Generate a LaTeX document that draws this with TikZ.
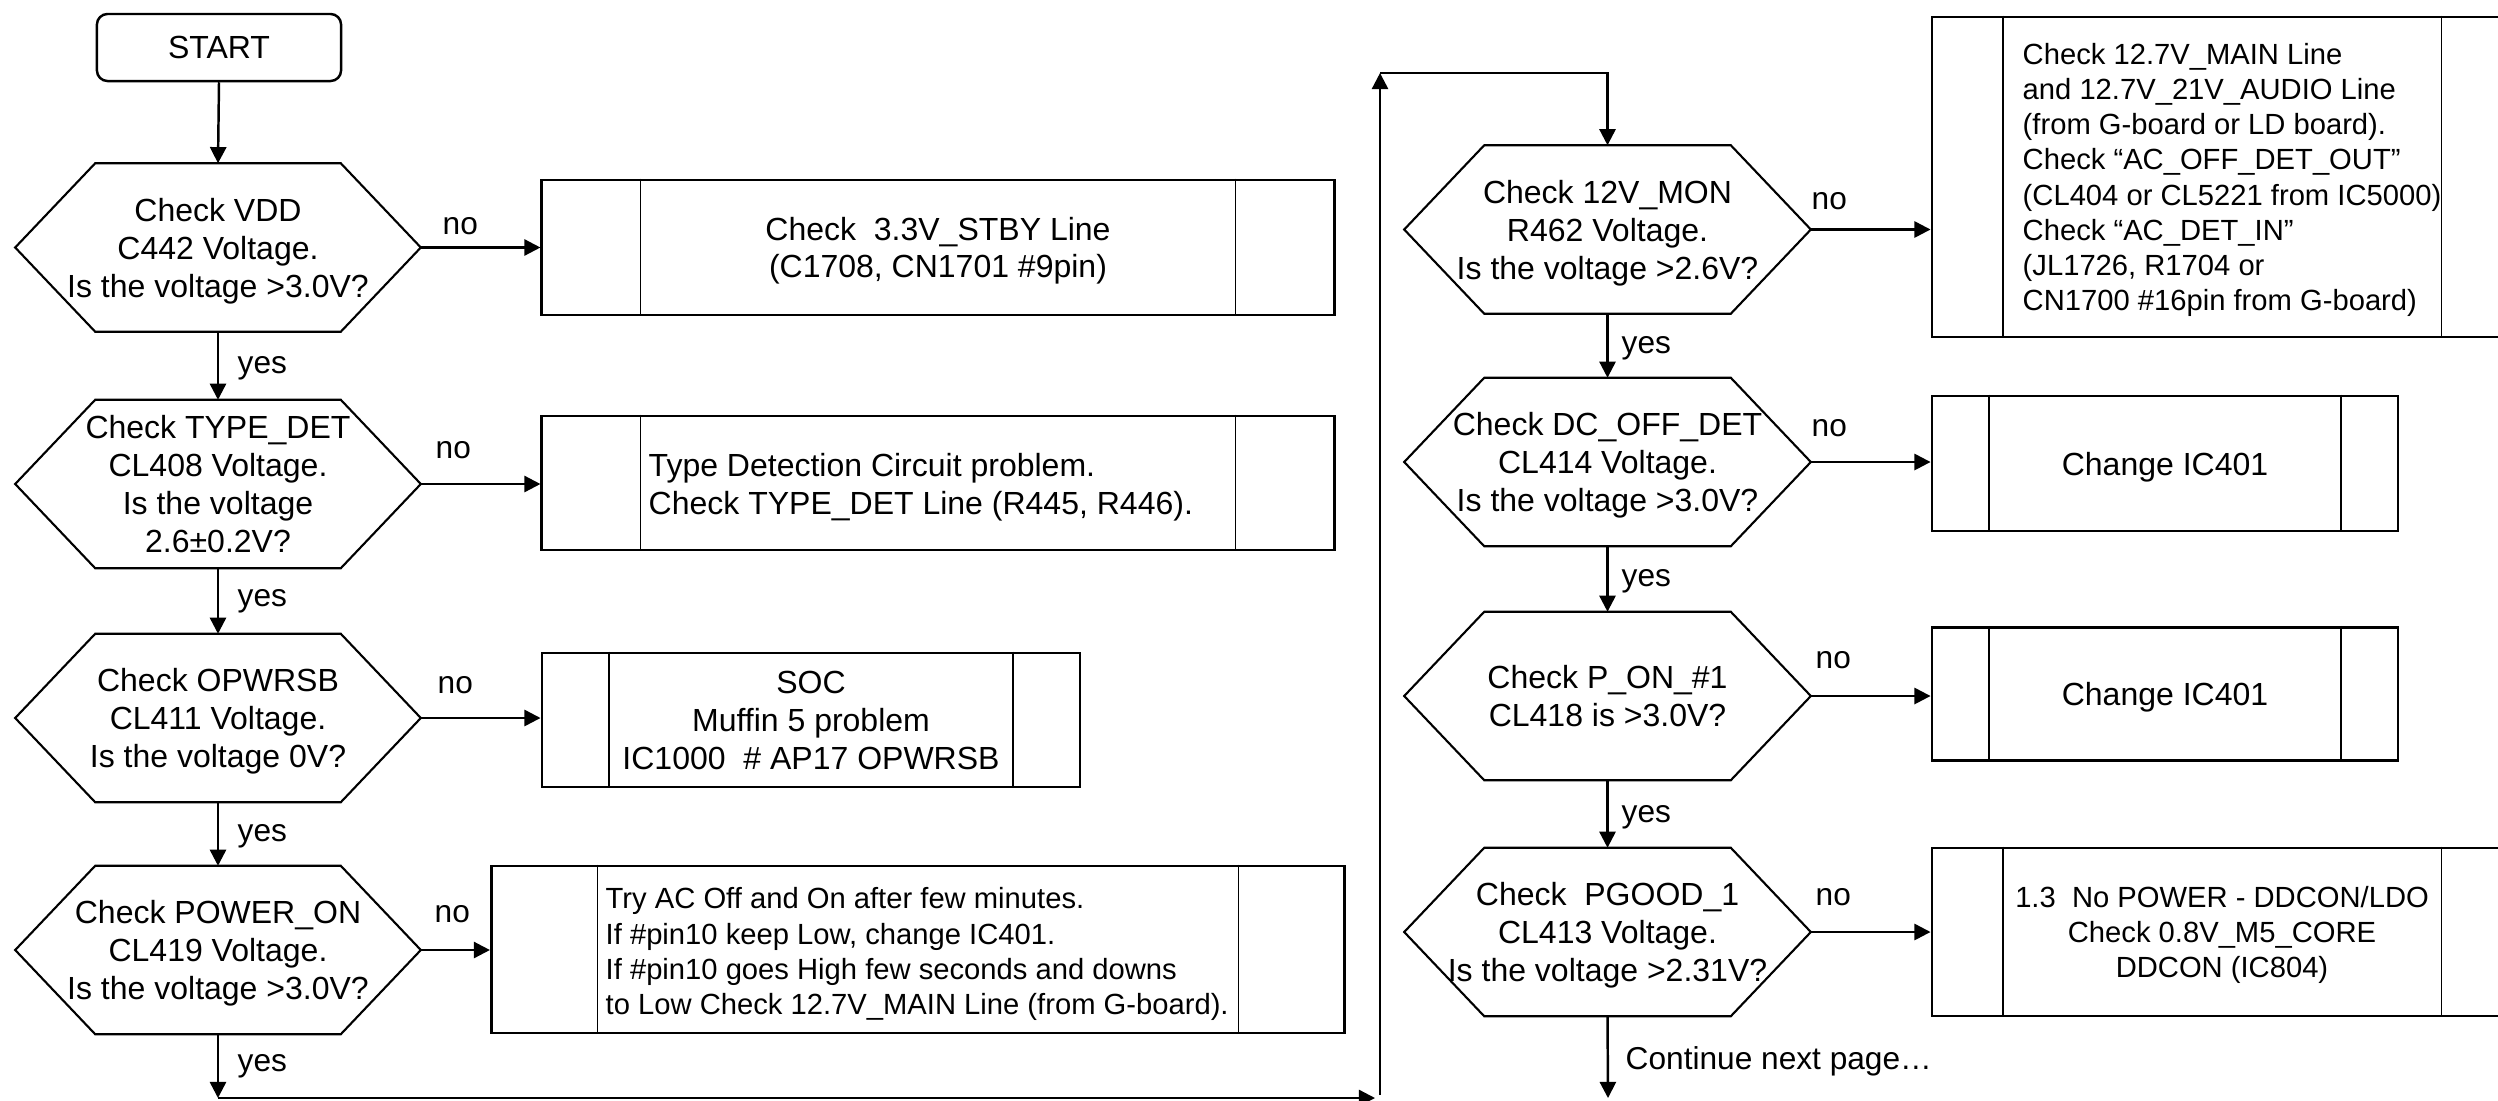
\documentclass[tikz,border=0pt]{standalone}
\usepackage{fontspec}
\setmainfont{Liberation Sans}
\usetikzlibrary{arrows.meta}
\newcommand\fA{\fontsize{9.1}{10.8}\selectfont}
\newcommand\fB{\fontsize{8.3}{10}\selectfont}
\newcommand\fL{\fontsize{9}{10.8}\selectfont}
\newcommand\hexa[1]{\draw[hexline] (#1.west) -- ([xshift=0.8cm]#1.north west) -- ([xshift=-0.8cm]#1.north east) -- (#1.east) -- ([xshift=-0.8cm]#1.south east) -- ([xshift=0.8cm]#1.south west) -- cycle;}
\newcommand\procl[2]{\draw[innerline] ([xshift=#2]#1.north west) -- ([xshift=#2]#1.south west);
  \draw[innerline] ([xshift=-#2]#1.north east) -- ([xshift=-#2]#1.south east);}
\tikzset{
  hexline/.style={line width=0.6pt},
  innerline/.style={line width=0.55pt},
  hexn/.style={rectangle, minimum width=4.04cm, minimum height=1.67cm, inner sep=0pt, align=center, font=\fA, text depth=0pt},
  proc/.style={draw, line width=0.75pt, rectangle, inner sep=0pt, align=center, font=\fA, text depth=0pt},
  startbox/.style={draw, line width=0.7pt, rectangle, rounded corners=3pt, minimum width=2.44cm, minimum height=0.67cm, inner sep=0pt, font=\fA},
  txt/.style={inner sep=0pt, align=left, anchor=west, text depth=0pt},
  lab/.style={inner sep=0pt, font=\fL, anchor=base west},
  arr/.style={line width=0.7pt, -{Triangle[length=4.6pt,width=4.6pt]}},
  ln/.style={line width=0.7pt}
}
\begin{document}
\begin{tikzpicture}[x=0.01cm, y=-0.01cm, line join=miter]
\path[use as bounding box] (0,0) rectangle (2498,1100);
\clip (0,0) rectangle (2498,1100);

% left column
\node[startbox] (start) at (219,47.5) {START};
\node[hexn] (h1) at (218,247.5) {Check VDD\\C442 Voltage.\\Is the voltage >3.0V?};
\node[hexn] (h2) at (218,484) {Check TYPE\_DET\\CL408 Voltage.\\Is the voltage\\2.6±0.2V?};
\node[hexn] (h3) at (218,718) {Check OPWRSB\\CL411 Voltage.\\Is the voltage 0V?};
\node[hexn] (h4) at (218,950) {Check POWER\_ON\\CL419 Voltage.\\Is the voltage >3.0V?};
\hexa{h1}\hexa{h2}\hexa{h3}\hexa{h4}

% right column
\node[hexn, minimum width=4.05cm] (h5) at (1607.5,229.5) {Check 12V\_MON\\R462 Voltage.\\Is the voltage >2.6V?};
\node[hexn, minimum width=4.05cm] (h6) at (1607.5,462) {Check DC\_OFF\_DET\\CL414 Voltage.\\Is the voltage >3.0V?};
\node[hexn, minimum width=4.05cm] (h7) at (1607.5,696) {Check P\_ON\_\#1\\CL418 is >3.0V?};
\node[hexn, minimum width=4.05cm] (h8) at (1607.5,932) {Check~ PGOOD\_1\\CL413 Voltage.\\Is the voltage >2.31V?};
\hexa{h5}\hexa{h6}\hexa{h7}\hexa{h8}

% process boxes, left
\node[proc, minimum width=7.92cm, minimum height=1.35cm, font=\fontsize{9.1}{10.3}\selectfont] (bA) at (938,247.5) {Check~ 3.3V\_STBY Line\\(C1708, CN1701 \#9pin)};
\procl{bA}{1.0cm}
\node[proc, minimum width=7.92cm, minimum height=1.34cm] (bB) at (938,483) {};
\procl{bB}{1.0cm}
\node[txt, font=\fontsize{9.1}{10.6}\selectfont] (tB) at (648,484) {Type Detection Circuit problem.\\Check TYPE\_DET Line (R445, R446).};
\node[proc, minimum width=5.38cm, minimum height=1.34cm] (bC) at (811,720) {SOC\\Muffin 5 problem\\IC1000~ \# AP17 OPWRSB};
\procl{bC}{0.68cm}
\node[proc, minimum width=8.53cm, minimum height=1.67cm] (bD) at (918,949.5) {};
\procl{bD}{1.075cm}
\node[txt, font=\fB] (tD) at (605,951) {Try AC Off and On after few minutes.\\If \#pin10 keep Low, change IC401.\\If \#pin10 goes High few seconds and downs\\to Low Check 12.7V\_MAIN Line (from G-board).};

% process boxes, right
\node[proc, minimum width=5.80cm, minimum height=3.20cm] (b1) at (2222,177) {};
\procl{b1}{0.72cm}
\node[txt, font=\fB] (t1) at (2022,177) {Check 12.7V\_MAIN Line\\and 12.7V\_21V\_AUDIO Line\\(from G-board or LD board).\\Check “AC\_OFF\_DET\_OUT”\\(CL404 or CL5221 from IC5000)\\Check “AC\_DET\_IN”\\(JL1726, R1704 or\\CN1700 \#16pin from G-board)};
\node[proc, minimum width=4.66cm, minimum height=1.35cm] (b2) at (2165,463.5) {Change IC401};
\procl{b2}{0.585cm}
\node[proc, minimum width=4.66cm, minimum height=1.335cm] (b3) at (2165,694) {Change IC401};
\procl{b3}{0.585cm}
\node[proc, minimum width=5.80cm, minimum height=1.68cm, font=\fB] (b4) at (2222,932) {1.3~ No POWER - DDCON/LDO\\Check 0.8V\_M5\_CORE\\DDCON (IC804)};
\procl{b4}{0.72cm}

% connectors
\draw[arr] (start.south) -- (h1.north);
\draw[arr] (h1.south) -- (h2.north);
\draw[arr] (h2.south) -- (h3.north);
\draw[arr] (h3.south) -- (h4.north);
\draw[arr] (h5.south) -- (h6.north);
\draw[arr] (h6.south) -- (h7.north);
\draw[arr] (h7.south) -- (h8.north);

\draw[arr] (h1.east) -- (h1.east -| bA.west);
\draw[arr] (h2.east) -- (h2.east -| bB.west);
\draw[arr] (h3.east) -- (h3.east -| bC.west);
\draw[arr] (h4.east) -- (h4.east -| bD.west);
\draw[arr] (h5.east) -- (h5.east -| b1.west);
\draw[arr] (h6.east) -- (h6.east -| b2.west);
\draw[arr] (h7.east) -- (h7.east -| b3.west);
\draw[arr] (h8.east) -- (h8.east -| b4.west);

\coordinate (c1) at (218,1098);
\coordinate (c2) at (1375,1098);
\coordinate (c3) at (1380,1095);
\coordinate (c4) at (1380,73);
\coordinate (c5) at (1608,1098);
\draw[arr] (h4.south) -- (c1);
\draw[arr] (c1) -- (c2);
\draw[arr] (c3) -- (c4);
\draw[arr] (c4) -| (h5.north);
\draw[arr] (h8.south) -- (c5);

% labels
\node[lab] (n1) at (442,234) {no};
\node[lab] (n2) at (435,458) {no};
\node[lab] (n3) at (437,693.5) {no};
\node[lab] (n4) at (434,922.7) {no};
\node[lab] (y1) at (237,373) {yes};
\node[lab] (y2) at (237,606) {yes};
\node[lab] (y3) at (237,841) {yes};
\node[lab] (y4) at (237,1071) {yes};
\node[lab] (n5) at (1811,209) {no};
\node[lab] (n6) at (1811,436) {no};
\node[lab] (n7) at (1815,668.6) {no};
\node[lab] (n8) at (1815,905) {no};
\node[lab] (y5) at (1621,353.5) {yes};
\node[lab] (y6) at (1621,586.4) {yes};
\node[lab] (y7) at (1621,822) {yes};
\node[lab] (cont) at (1625,1069) {Continue next page…};
\end{tikzpicture}
\end{document}
